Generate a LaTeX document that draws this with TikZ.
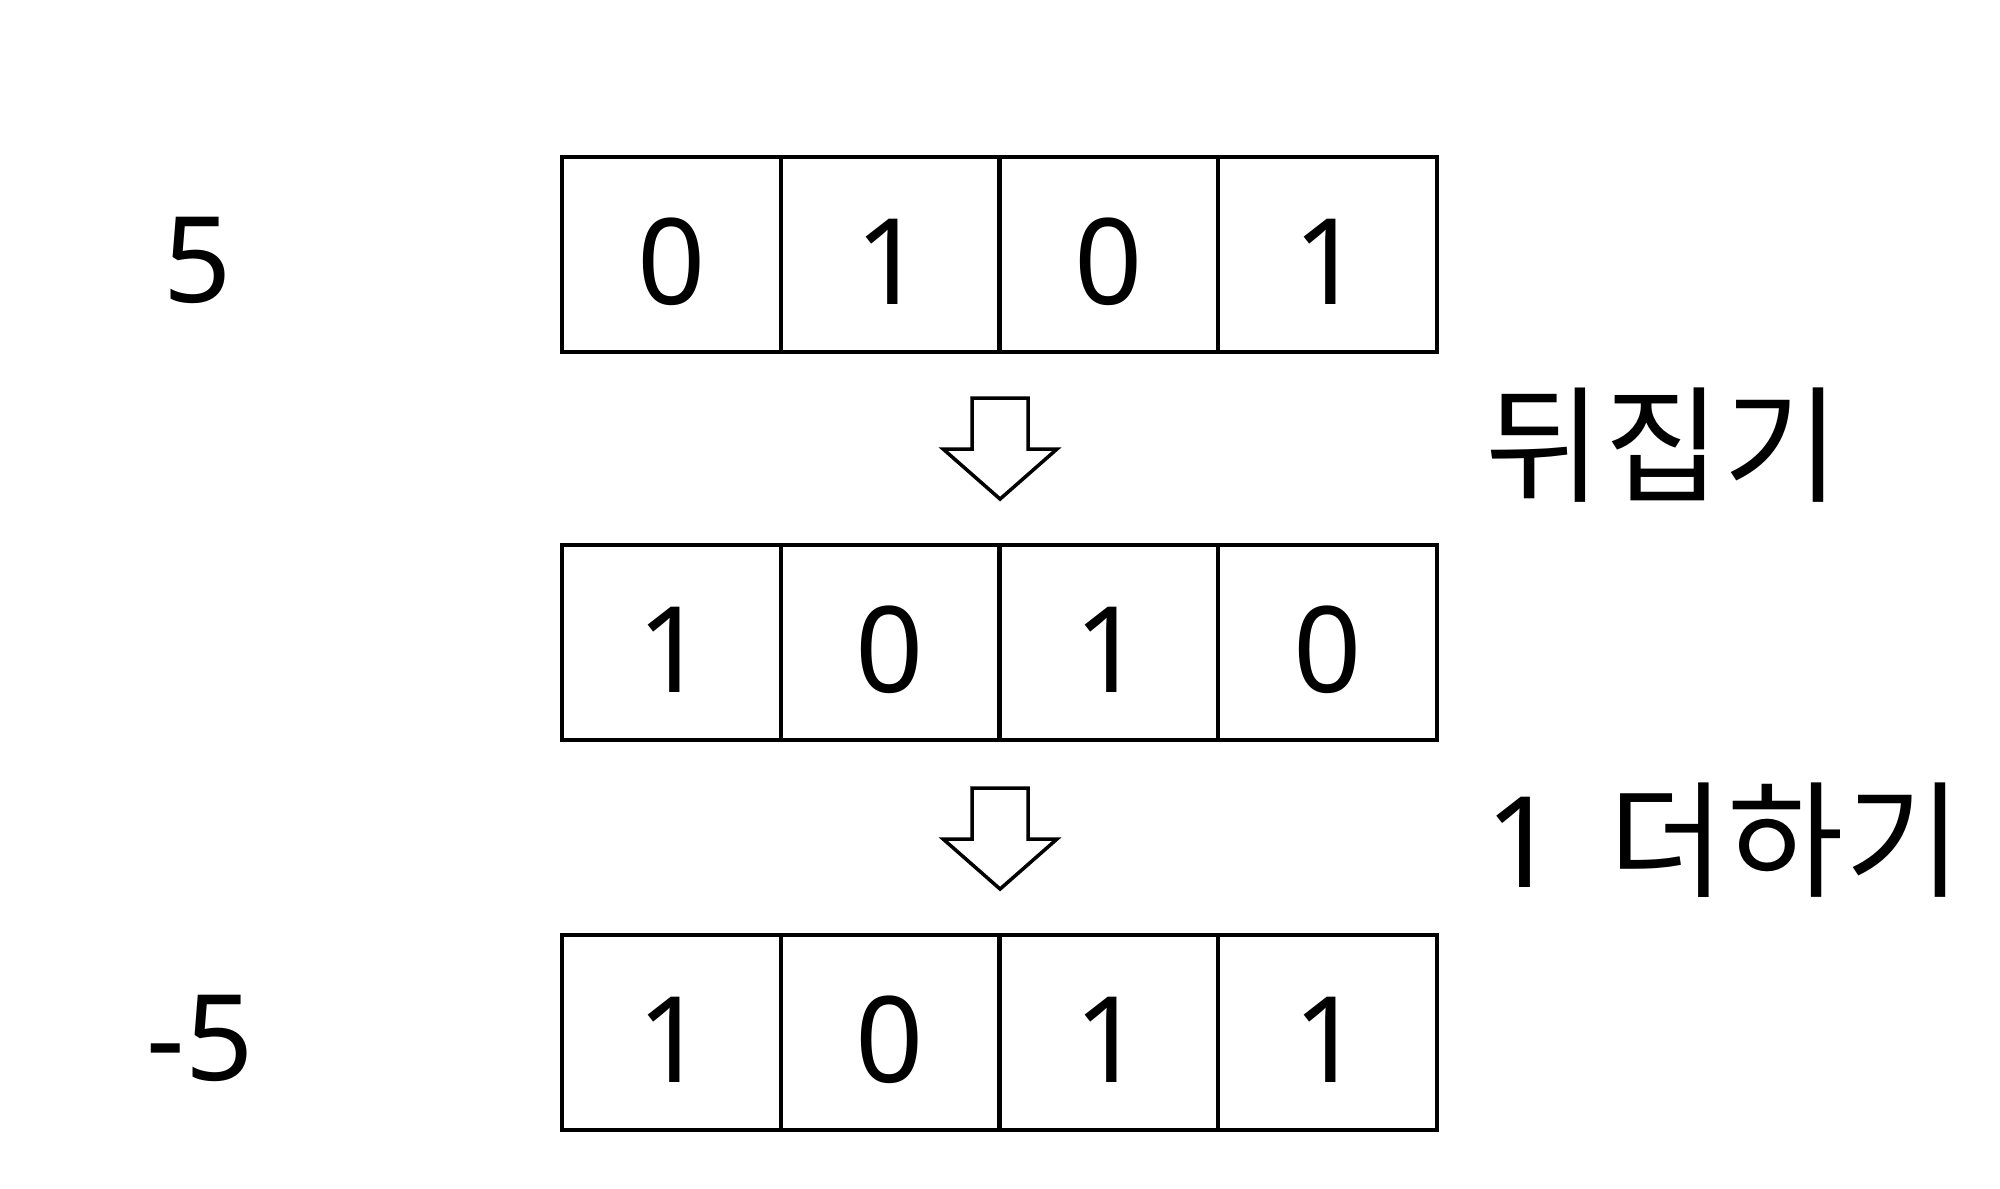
\documentclass[tikz,border=0pt]{standalone}
\usepackage{fontspec}
\setmainfont{Noto Sans}
\newfontfamily\kr[LetterSpace=2]{Noto Sans CJK KR}
\usetikzlibrary{positioning}

\begin{document}
\begin{tikzpicture}
    \pgfmathsetmacro{\w}{2.1875}
    \pgfmathsetmacro{\h}{1.95}
    \tikzset{
        cell/.style={draw,line width=1.2pt,outer sep=0pt,inner sep=0pt,minimum width=\w cm,minimum height=\h cm,text height=1cm,text depth=0pt,font=\fontsize{34}{40}\selectfont},
        numlabel/.style={inner sep=0pt,font=\fontsize{34}{40}\selectfont},
        steplabel/.style={inner sep=0pt,anchor=west,font=\fontsize{36}{42}\selectfont},
        downarrow/.pic={
            \filldraw[white,draw=black,line width=1pt] (0,0) --++(0:0.56)--++(-90:0.51)--++(0:0.29)--++(221.3:0.758)--++(138.7:0.758)--++(0:0.29)--cycle;
        }
    };
    \useasboundingbox (0,0) rectangle (20,-11.88);

    \node[cell] (a1) at (6.714,-2.545) {0};
    \node[cell,right=0pt of a1] (a2) {1};
    \node[cell,right=0pt of a2] (a3) {0};
    \node[cell,right=0pt of a3] (a4) {1};

    \node[cell] (b1) at (6.714,-6.425) {1};
    \node[cell,right=0pt of b1] (b2) {0};
    \node[cell,right=0pt of b2] (b3) {1};
    \node[cell,right=0pt of b3] (b4) {0};

    \node[cell] (c1) at (6.714,-10.325) {1};
    \node[cell,right=0pt of c1] (c2) {0};
    \node[cell,right=0pt of c2] (c3) {1};
    \node[cell,right=0pt of c3] (c4) {1};

    \node[numlabel] (pos) at (1.98,-2.6) {5};
    \node[numlabel] (neg) at (2.0,-10.38) {-5};

    \draw (9.72,-3.98) pic {downarrow};
    \draw (9.72,-7.88) pic {downarrow};

    \node[steplabel] (flip) at (14.85,-4.45) {\kr 뒤집기};
    \node[steplabel] (addone) at (14.85,-8.4) {1\hspace{0.5cm}{\kr 더하기}};
\end{tikzpicture}
\end{document}
